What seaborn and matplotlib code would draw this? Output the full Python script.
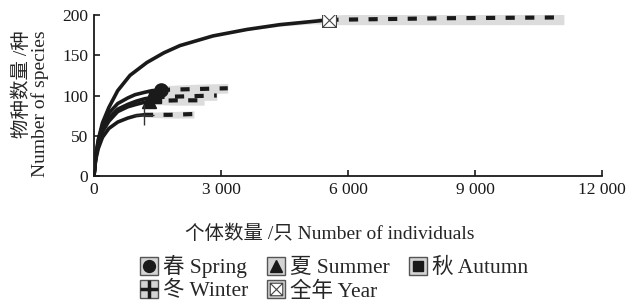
import numpy as np
import pandas as pd
import matplotlib
matplotlib.use("Agg")
import matplotlib.pyplot as plt
from matplotlib.path import Path
from matplotlib.lines import Line2D
from matplotlib.legend_handler import HandlerTuple
import seaborn as sns

# ---------------- data ----------------
season_labels = ["春 Spring", "夏 Summer", "秋 Autumn", "冬 Winter", "全年 Year"]

# rarefaction (interpolated) parts
spring_n = [1, 40, 100, 200, 350, 560, 800, 970, 1200, 1370, 1580]
spring_s = [1, 24, 43, 63, 78, 90, 97, 101, 104, 106, 107]
summer_n = [1, 40, 100, 200, 350, 560, 800, 1000, 1300]
summer_s = [1, 22, 38, 55, 68, 80, 86, 89, 93]
autumn_n = [1, 40, 100, 200, 350, 560, 800, 1000, 1200, 1450]
autumn_s = [1, 23, 40, 58, 72, 83, 89, 93, 96, 98]
winter_n = [1, 40, 100, 200, 350, 560, 800, 1000, 1180]
winter_s = [1, 20, 34, 48, 59, 67, 72, 75, 76]
year_n = [1, 40, 100, 200, 350, 560, 850, 1250, 1650, 2030, 2810, 3610, 4390, 5170, 5560]
year_s = [1, 25, 45, 66, 85, 106, 125, 141, 153, 162, 174, 182, 188, 192, 194]

# extrapolated parts with confidence band
spring_ext_n = [1580, 2400, 3160]
spring_ext_s = [107, 108, 109]
spring_ext_lo = [102, 102, 103]
spring_ext_hi = [112, 114, 115]
summer_ext_n = [1300, 1950, 2600]
summer_ext_s = [93, 94, 94]
summer_ext_lo = [89, 88, 88]
summer_ext_hi = [97, 99, 100]
autumn_ext_n = [1450, 2200, 2900]
autumn_ext_s = [98, 99, 100]
autumn_ext_lo = [94, 94, 94]
autumn_ext_hi = [102, 104, 106]
winter_ext_n = [1180, 1800, 2360]
winter_ext_s = [76, 76, 77]
winter_ext_lo = [73, 72, 72]
winter_ext_hi = [79, 80, 81]
year_ext_n = [5560, 8300, 11100]
year_ext_s = [194, 196, 197]
year_ext_lo = [188, 188, 188]
year_ext_hi = [200, 204, 206]

# confidence band around the late part of the year rarefaction curve
year_band_n = [3610, 4390, 5170, 5560]
year_band_lo = [181, 186, 189, 188]
year_band_hi = [183, 190, 195, 200]

x_ticks = [0, 3000, 6000, 9000, 12000]
x_tick_labels = ["0", "3 000", "6 000", "9 000", "12 000"]
y_ticks = [0, 50, 100, 150, 200]
y_tick_labels = ["0", "50", "100", "150", "200"]

# ---------------- style ----------------
sns.set_theme(style="ticks")
plt.rcParams["font.family"] = ["Liberation Serif", "Noto Sans CJK SC"]
plt.rcParams["axes.unicode_minus"] = False

fig = plt.figure(figsize=(6.43, 3.06), dpi=100)
ax = fig.add_axes([94 / 643, 1 - 176 / 306, (602 - 94) / 643, (176 - 15) / 306])

# boxed-X marker
boxx = Path(
    [(-1, -1), (1, -1), (1, 1), (-1, 1), (-1, -1), (-1, -1), (1, 1), (-1, 1), (1, -1)],
    [Path.MOVETO, Path.LINETO, Path.LINETO, Path.LINETO, Path.CLOSEPOLY,
     Path.MOVETO, Path.LINETO, Path.MOVETO, Path.LINETO],
)

series = [
    dict(name=season_labels[0], n=spring_n, s=spring_s, en=spring_ext_n, es=spring_ext_s,
         lo=spring_ext_lo, hi=spring_ext_hi, marker="o", ms=9.5, mfc="k", mec="k", mew=1),
    dict(name=season_labels[1], n=summer_n, s=summer_s, en=summer_ext_n, es=summer_ext_s,
         lo=summer_ext_lo, hi=summer_ext_hi, marker="^", ms=9.5, mfc="k", mec="k", mew=1),
    dict(name=season_labels[2], n=autumn_n, s=autumn_s, en=autumn_ext_n, es=autumn_ext_s,
         lo=autumn_ext_lo, hi=autumn_ext_hi, marker="s", ms=8.5, mfc="k", mec="k", mew=1),
    dict(name=season_labels[3], n=winter_n, s=winter_s, en=winter_ext_n, es=winter_ext_s,
         lo=winter_ext_lo, hi=winter_ext_hi, marker="+", ms=14, mfc="k", mec="#333333", mew=1.0),
    dict(name=season_labels[4], n=year_n, s=year_s, en=year_ext_n, es=year_ext_s,
         lo=year_ext_lo, hi=year_ext_hi, marker=boxx, ms=10, mfc="white", mec="#444444", mew=0.8),
]

band_color = "#dcdcdc"
# bands
for d in series:
    ax.fill_between(d["en"], d["lo"], d["hi"], color=band_color, lw=0, zorder=1)
ax.fill_between(year_band_n, year_band_lo, year_band_hi, color=band_color, lw=0, zorder=1)

# extrapolated dashed lines
for d in series:
    dfe = pd.DataFrame({"n": d["en"], "s": d["es"]})
    sns.lineplot(data=dfe, x="n", y="s", ax=ax, color="k", lw=3.0, zorder=3,
                 linestyle=(0.0, (2.2, 2.5)))

# rarefaction solid lines
rows = []
for d in series:
    for n, s in zip(d["n"], d["s"]):
        rows.append({"season": d["name"], "n": n, "s": s})
df = pd.DataFrame(rows)
sns.lineplot(data=df, x="n", y="s", hue="season", palette=["k"] * 5, lw=2.6,
             legend=False, ax=ax, sort=False, zorder=4)

# markers at observed sample
for d in series:
    ax.plot([d["n"][-1]], [d["s"][-1]], ls="none", marker=d["marker"], ms=d["ms"],
            mfc=d["mfc"], mec=d["mec"], mew=d["mew"], zorder=6)

# ---------------- axes ----------------
ax.set_xlim(0, 12000)
ax.set_ylim(0, 200)
ax.set_xticks(x_ticks)
ax.set_xticklabels(x_tick_labels)
ax.set_yticks(y_ticks)
ax.set_yticklabels(y_tick_labels)
ax.tick_params(direction="in", length=4, width=1.2, labelsize=12.5, pad=4, colors="k")
for sp in ["top", "right"]:
    ax.spines[sp].set_visible(False)
for sp in ["left", "bottom"]:
    ax.spines[sp].set_linewidth(1.3)
    ax.spines[sp].set_color("k")
ax.set_xlabel("个体数量 /只 Number of individuals", fontsize=14, va="top")
ax.xaxis.set_label_coords((330 - 94) / 508, (176 - 225) / 161)
ax.set_ylabel("物种数量 /种\nNumber of species", fontsize=14, linespacing=1.0,
              multialignment="right")
ax.yaxis.set_label_coords((49 - 94) / 508, (176 - 104) / 161)

# ---------------- legend ----------------
handles = []
for d in series:
    box = Line2D([], [], ls="none", marker="s", ms=13, mfc="#d4d4d4", mec="#555555", mew=1.0)
    if d["marker"] == "+":
        mk = Line2D([], [], ls="none", marker="+", ms=13, mec="k", mew=2.5)
    elif d["marker"] is boxx:
        mk = Line2D([], [], ls="none", marker=boxx, ms=9, mfc="white", mec="#444444", mew=0.8)
    else:
        mk = Line2D([], [], ls="none", marker=d["marker"], ms=d["ms"] * 0.9,
                    mfc=d["mfc"], mec=d["mec"], mew=d["mew"])
    handles.append((box, mk))

# column-major order so rows read: Spring Summer Autumn / Winter Year
order = [0, 3, 1, 4, 2]
leg = fig.legend([handles[i] for i in order], [season_labels[i] for i in order],
                 ncol=3, loc="upper left",
                 bbox_to_anchor=(140 / 643, 1 - 255 / 306), frameon=False,
                 handler_map={tuple: HandlerTuple(ndivide=1)}, fontsize=15.5,
                 handlelength=0.8, handletextpad=0.25, columnspacing=0.9,
                 labelspacing=0.15, borderaxespad=0, borderpad=0)

fig.savefig("out.png", dpi=100)
